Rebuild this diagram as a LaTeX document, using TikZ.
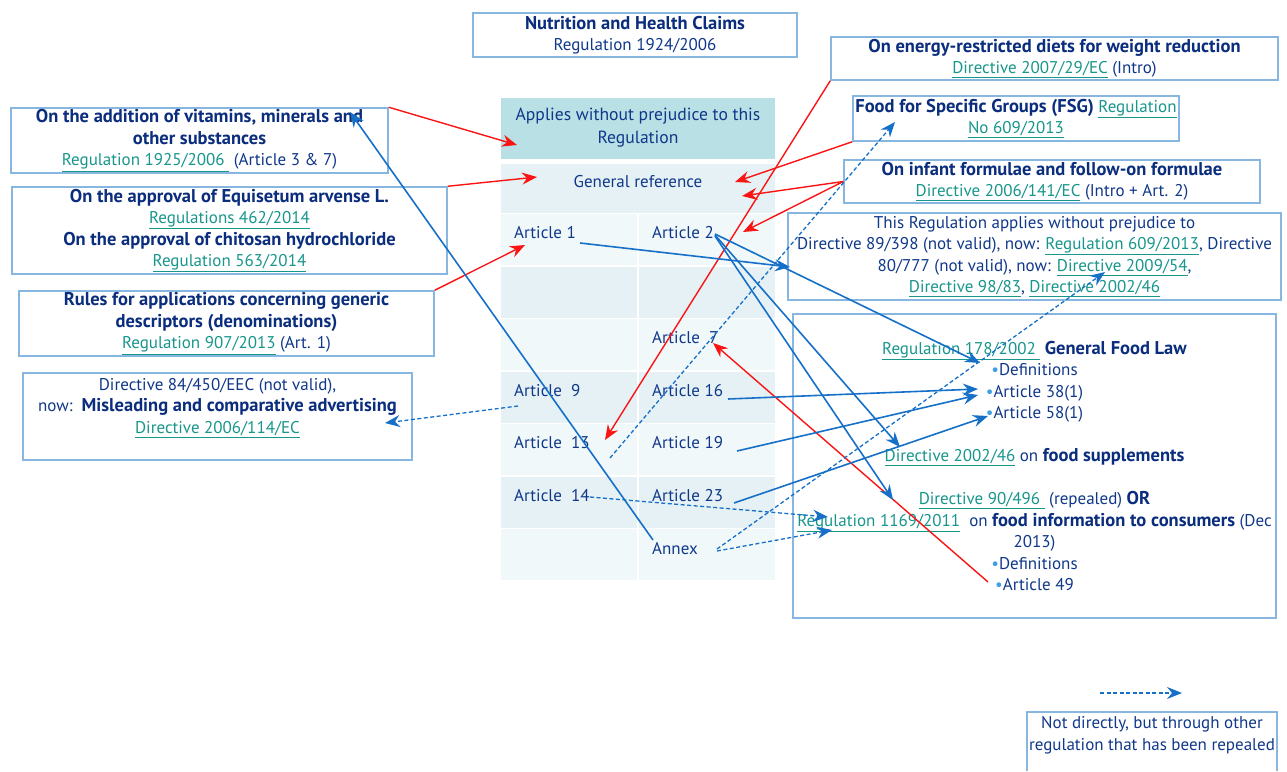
\documentclass[tikz,border=0pt]{standalone}
\usepackage{fontspec}
\setmainfont{PT Sans}
\usetikzlibrary{arrows.meta}
\definecolor{dkblue}{RGB}{16,56,138}
\definecolor{bdblue}{RGB}{10,45,125}
\definecolor{lnkteal}{RGB}{24,150,140}
\definecolor{bordblue}{RGB}{135,183,225}
\definecolor{hdrfill}{RGB}{185,224,228}
\definecolor{rowA}{RGB}{229,241,244}
\definecolor{rowB}{RGB}{241,248,250}
\definecolor{arrblue}{RGB}{22,112,200}
\definecolor{arrred}{RGB}{250,20,20}
\definecolor{bulblue}{RGB}{60,160,225}
\newcommand{\lnk}[1]{\textcolor{lnkteal}{\underline{#1}}}
\newcommand{\bul}{\textcolor{bulblue}{\textbullet}}
\newcommand{\bt}[1]{{\fontsize{18.5pt}{21.5pt}\selectfont\bfseries\color{bdblue}#1}}
\newcommand{\mainfs}{\fontsize{17pt}{21.5pt}\selectfont}
\tikzset{
  box/.style={draw=bordblue, line width=1.5pt, fill=white, align=center, inner sep=0pt, text=dkblue, font=\mainfs},
  cellbox/.style={inner sep=0pt, minimum width=136pt, minimum height=51pt},
  lbl/.style={text=dkblue, font=\mainfs, anchor=mid west, inner sep=0pt},
  tip/.style={-{Stealth[length=15pt,width=12pt,inset=5pt]}},
  redarr/.style={draw=arrred, line width=1.4pt, tip},
  bluarr/.style={draw=arrblue, line width=1.6pt, tip},
  dasharr/.style={draw=arrblue, line width=1.3pt, dash pattern=on 4pt off 2.5pt, tip}
}
\begin{document}
\begin{tikzpicture}[x=1pt,y=-1pt]
\useasboundingbox (0,0) rectangle (1287,771);
% ---------- table ----------
\node[inner sep=0pt, minimum width=274pt, minimum height=61pt, fill=hdrfill, text=dkblue, font=\fontsize{17.6pt}{23pt}\selectfont, align=center] (hdr) at (638,128) {Applies without prejudice to this\\Regulation};
\node[inner sep=0pt, minimum width=274pt, minimum height=49pt, fill=rowA] (genref) at (638,188.5) {};
\node[lbl, anchor=center] (genreft) at (638,182) {General reference};
\foreach \i in {1,...,7} {
  \pgfmathsetmacro{\cy}{214+(\i-1)*52.5+25.5}
  \pgfmathtruncatemacro{\odd}{mod(\i,2)}
  \ifnum\odd=1 \def\fc{rowB}\else\def\fc{rowA}\fi
  \node[cellbox, fill=\fc] (cL\i) at (569,\cy) {};
  \node[cellbox, fill=\fc] (cR\i) at (707,\cy) {};
}
\node[lbl] (a1) at (514,236) {Article 1};
\node[lbl] (a2) at (652,236) {Article 2};
\node[lbl] (a7) at (652,341) {Article~~7};
\node[lbl] (a9) at (514,393.5) {Article~~9};
\node[lbl] (a16) at (652,393.5) {Article 16};
\node[lbl] (a13) at (514,446) {Article~~13};
\node[lbl] (a19) at (652,446) {Article 19};
\node[lbl] (a14) at (514,498.5) {Article~~14};
\node[lbl] (a23) at (652,498.5) {Article 23};
\node[lbl] (annex) at (652,551.5) {Annex};
% ---------- boxes ----------
\node[box, minimum width=324pt, minimum height=44pt] (title) at (635,35) {\bt{Nutrition and Health Claims}\\Regulation 1924/2006};
\node[box, minimum width=447pt, minimum height=43pt] (energy) at (1054.5,58.5) {\bt{On energy-restricted diets for weight reduction}\\\lnk{Directive 2007/29/EC} (Intro)};
\node[box, minimum width=326pt, minimum height=45pt] (fsg) at (1016,118.5) {\bt{Food for Specific Groups (FSG)} \lnk{Regulation}\\\lnk{No 609/2013}};
\node[box, minimum width=416pt, minimum height=43pt] (infant) at (1052,181.5) {\bt{On infant formulae and follow-on formulae}\\\lnk{Directive 2006/141/EC} (Intro + Art. 2)};
\node[box, minimum width=493pt, minimum height=87pt] (appl) at (1034.5,256.5) {This Regulation applies without prejudice to\\Directive 89/398 (not valid), now: \lnk{Regulation 609/2013}, Directive\\80/777 (not valid), now: \lnk{Directive 2009/54},\\\lnk{Directive 98/83}, \lnk{Directive 2002/46}};
\node[box, minimum width=483pt, minimum height=304pt] (gfl) at (1034.5,466) {\lnk{Regulation 178/2002\ } \bt{General Food Law}\\\bul Definitions\\\bul Article 38(1)\\\bul Article 58(1)\\\mbox{}\\\lnk{Directive 2002/46} on \bt{food supplements}\\\mbox{}\\\lnk{Directive 90/496\ } (repealed) \bt{OR}\\\lnk{Regulation 1169/2011}\ \ on \bt{food information to consumers} (Dec\\2013)\\\bul Definitions\\\bul Article 49};
\node[box, minimum width=377pt, minimum height=65pt] (vit) at (199.5,140.5) {\bt{On the addition of vitamins, minerals and}\\\bt{other substances}\\\lnk{Regulation 1925/2006\ } (Article 3 \& 7)};
\node[box, minimum width=435pt, minimum height=87pt] (equi) at (229.5,230.5) {\bt{On the approval of Equisetum arvense L.}\\\lnk{Regulations 462/2014}\\\bt{On the approval of chitosan hydrochloride}\\\lnk{Regulation 563/2014}};
\node[box, minimum width=415pt, minimum height=65pt] (rules) at (226.5,323.5) {\bt{Rules for applications concerning generic}\\\bt{descriptors (denominations)}\\\lnk{Regulation 907/2013} (Art. 1)};
\node[box, minimum width=389pt, minimum height=87pt] (adv) at (217.5,416.5) {Directive 84/450/EEC (not valid),\\now:\ \ \bt{Misleading and comparative advertising}\\\lnk{Directive 2006/114/EC}\\\mbox{}};
% legend
\draw[draw=bordblue, line width=1.5pt] (1027,771) -- (1027,712) -- (1277,712) -- (1277,771);
\node[text=dkblue, font=\mainfs, align=center, inner sep=0pt] (legend) at (1152,735) {Not directly, but through other\\regulation that has been repealed};
% ---------- endpoints ----------
\coordinate (pHdr) at (517,145);
\coordinate (pGen) at (537,177);
\coordinate (pA1in) at (525,245);
\coordinate (pA13in) at (605,440);
\coordinate (pGenR) at (735,182);
\coordinate (pGenR2) at (742,196);
\coordinate (pA2in) at (743,232);
\coordinate (pArt49) at (988,582);
\coordinate (pA7in) at (713,343);
\coordinate (pAnnex) at (653,540);
\coordinate (pVit) at (350,112);
\coordinate (pA1out) at (580,243);
\coordinate (pAppl) at (790,267);
\coordinate (pA2a) at (715,234);
\coordinate (pA2b) at (715,235);
\coordinate (pA2c) at (715,236);
\coordinate (pDef) at (980,363);
\coordinate (pFS) at (900,447);
\coordinate (pD90) at (893,500);
\coordinate (pA16) at (728,399);
\coordinate (pA19) at (737,451);
\coordinate (pA23) at (734,503);
\coordinate (p38a) at (978,389);
\coordinate (p38b) at (978,395);
\coordinate (p58) at (988,416);
\coordinate (pA9) at (518,406);
\coordinate (pAdv) at (385,423);
\coordinate (pA13out) at (610,458);
\coordinate (pFsg) at (895,122);
\coordinate (pA14) at (590,497);
\coordinate (p1169a) at (828,517);
\coordinate (pAnnexa) at (717,551);
\coordinate (pAnnexb) at (717,549);
\coordinate (p1169b) at (832,530);
\coordinate (p2009) at (1105,272);
\coordinate (lgA) at (1100,693);
\coordinate (lgB) at (1182,693);
% ---------- red connectors ----------
\draw[redarr] (vit.north east) -- (pHdr);
\draw[redarr] (equi.north east) -- (pGen);
\draw[redarr] (rules.north east) -- (pA1in);
\draw[redarr] (energy.south west) -- (pA13in);
\draw[redarr] (fsg.south west) -- (pGenR);
\draw[redarr] (infant.west) -- (pGenR2);
\draw[redarr] (infant.west) -- (pA2in);
\draw[redarr] (pArt49) -- (pA7in);
% ---------- blue connectors ----------
\draw[bluarr] (pAnnex) -- (pVit);
\draw[bluarr] (pA1out) -- (pAppl);
\draw[bluarr] (pA2a) -- (pDef);
\draw[bluarr] (pA2b) -- (pFS);
\draw[bluarr] (pA2c) -- (pD90);
\draw[bluarr] (pA16) -- (p38a);
\draw[bluarr] (pA19) -- (p38b);
\draw[bluarr] (pA23) -- (p58);
% ---------- dashed connectors ----------
\draw[dasharr] (pA9) -- (pAdv);
\draw[dasharr] (pA13out) -- (pFsg);
\draw[dasharr] (pA14) -- (p1169a);
\draw[dasharr] (pAnnexa) -- (p1169b);
\draw[dasharr] (pAnnexb) -- (p2009);
\draw[dasharr] (lgA) -- (lgB);
\end{tikzpicture}
\end{document}
